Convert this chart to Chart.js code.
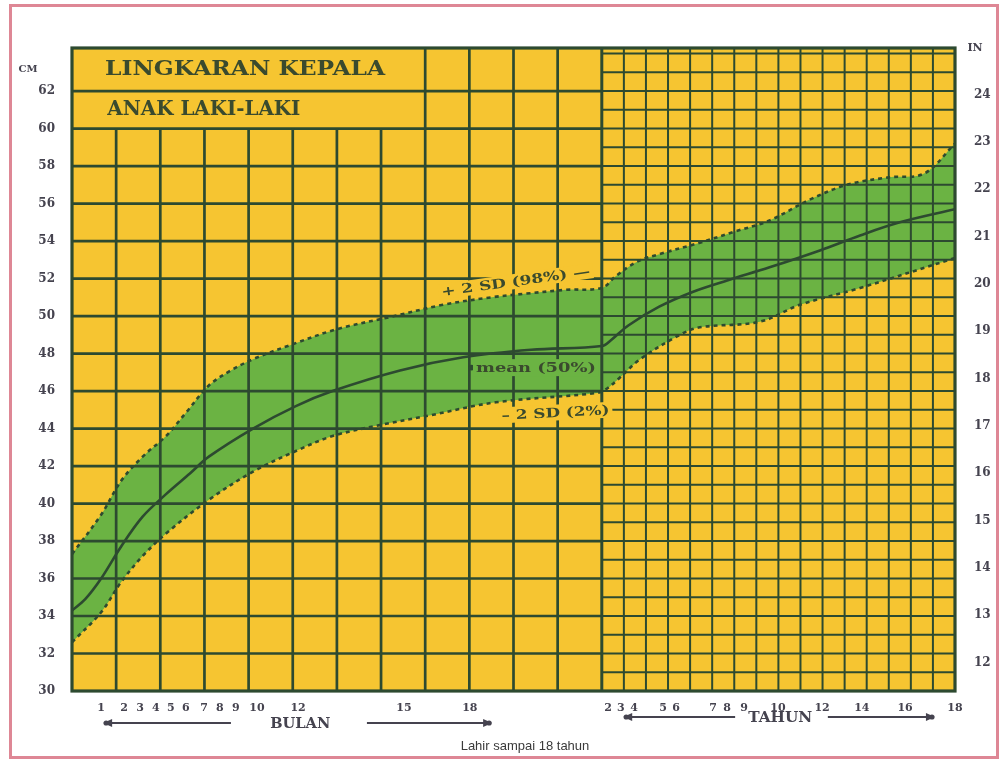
<!DOCTYPE html>
<html><head><meta charset="utf-8">
<script src="https://cdn.jsdelivr.net/npm/chart.js@4.4.1/dist/chart.umd.min.js"></script>
<style>
html,body{margin:0;padding:0;background:#fff;width:999px;height:763px;overflow:hidden}
#wrap{position:relative;width:999px;height:763px}
canvas{position:absolute;left:0;top:0}
#frame{position:absolute;left:9px;top:4px;width:984px;height:749px;border:3px solid #DE8795;pointer-events:none}
</style></head><body>
<div id="wrap"><canvas id="c" width="999" height="763"></canvas><div id="frame"></div></div>
<script>
// ---- data (x = position on the chart's age grid: 0..12 = 0..24 months, 12..20 = 2..18 years) ----
const cmTicks = [30,32,34,36,38,40,42,44,46,48,50,52,54,56,58,60,62];
const inTicks = [12,13,14,15,16,17,18,19,20,21,22,23,24];
const monthTickLabels = ['1','2','3','4','5','6','7','8','9','10','12','15','18'];
const monthTickPos = [0.66,1.18,1.54,1.90,2.24,2.58,2.99,3.35,3.71,4.19,5.12,7.52,9.01];
const yearTickLabels = ['2','3','4','5','6','7','8','9','10','12','14','16','18'];
const yearTickPos = [12.14,12.43,12.73,13.39,13.68,14.52,14.84,15.22,15.99,16.99,17.89,18.87,20.0];

const meanX  = [0,0.3,0.66,1.11,1.6,2.13,2.67,3.1,4.1,5.07,5.9,7.43,8.86,10.4,12.0,12.2,12.6,13.3,14.07,14.84,15.8,16.94,17.85,18.75,20];
const meanCm = [34.3,34.9,36.0,37.7,39.3,40.5,41.6,42.5,44.0,45.2,46.0,47.1,47.8,48.2,48.4,48.7,49.5,50.5,51.3,51.9,52.6,53.5,54.3,55.0,55.7];

const upX  = [0,0.66,1.11,1.6,2.13,2.6,3.1,3.6,4.1,5.0,6.0,7.3,8.4,9.5,10.3,11.2,12.0,12.3,12.8,13.3,14.2,15.0,15.8,16.7,17.55,18.5,19.3,20];
const upCm = [37.3,39.4,41.2,42.5,43.6,44.9,46.3,47.1,47.7,48.5,49.3,50.0,50.6,51.0,51.2,51.4,51.5,52.1,52.9,53.3,53.9,54.5,55.1,56.2,57.0,57.4,57.6,59.2];

const loX  = [0,0.66,1.11,1.6,2.13,3.1,4.1,5.07,5.9,7.0,8.1,9.6,11.9,12.1,12.4,12.87,13.77,14.22,15.58,16.49,17.85,20];
const loCm = [32.6,34.2,35.8,37.2,38.4,40.2,41.7,42.8,43.6,44.2,44.7,45.4,45.9,46.1,46.7,47.7,49.0,49.4,49.7,50.6,51.5,53.1];

// ---- style ----
const YELLOW = '#F6C531', GREEN = '#6BB343', INK = '#2D4A30', TXT = '#45434F', TITLE = '#3A4A2E';
const SERIF = '"DejaVu Serif", "Liberation Serif", serif';

const pts = (xs, ys) => xs.map((x, i) => ({x, y: ys[i]}));
const allTickPos = monthTickPos.concat(yearTickPos);
const allTickLabels = monthTickLabels.concat(yearTickLabels);

function line(ctx, x1, y1, x2, y2) { ctx.beginPath(); ctx.moveTo(x1, y1); ctx.lineTo(x2, y2); ctx.stroke(); }

function label(ctx, s, x, y, opt) {
  ctx.save();
  ctx.translate(x, y);
  if (opt.angle) ctx.rotate(opt.angle * Math.PI / 180);
  ctx.font = opt.font;
  const w = ctx.measureText(s).width;
  const sx = opt.width ? opt.width / w : 1;
  const align = opt.align || 'center';
  const left = align === 'left' ? 0 : -w * sx / 2;
  if (opt.bg) {
    ctx.fillStyle = opt.bg;
    const h = opt.h || 16;
    ctx.fillRect(left - 3, -h / 2, w * sx + 6, h);
  }
  ctx.scale(sx, 1);
  ctx.fillStyle = opt.color;
  ctx.textAlign = 'left';
  ctx.textBaseline = 'middle';
  ctx.fillText(s, left / sx, 1);
  ctx.restore();
}

function arrow(ctx, x1, x2, y, head) {
  ctx.save();
  ctx.strokeStyle = TXT; ctx.fillStyle = TXT; ctx.lineWidth = 2.2;
  line(ctx, x1, y, x2, y);
  const hx = head === 'left' ? x1 : x2, d = head === 'left' ? 1 : -1;
  ctx.beginPath(); ctx.moveTo(hx - d * 2, y); ctx.lineTo(hx + d * 7, y - 4); ctx.lineTo(hx + d * 7, y + 4); ctx.closePath(); ctx.fill();
  ctx.beginPath(); ctx.arc(hx + d * 1, y, 2.6, 0, Math.PI * 2); ctx.fill();
  ctx.restore();
}

const paper = {
  id: 'paper',
  beforeDraw(chart) {
    const {ctx, chartArea: a} = chart;
    ctx.save(); ctx.fillStyle = YELLOW; ctx.fillRect(a.left, a.top, a.right - a.left, a.bottom - a.top); ctx.restore();
  },
  beforeDatasetDraw(chart, args) {
    if (args.index !== 2) return; // band dataset is drawn first; its fill is already painted
    const {ctx, chartArea: a} = chart;
    const X = v => chart.scales.x.getPixelForValue(v), Y = v => chart.scales.y.getPixelForValue(v);
    ctx.save();
    ctx.strokeStyle = INK;
    // year part: 1 cm rows, half-unit columns
    ctx.lineWidth = 2;
    for (let c = 31; c <= 64; c++) line(ctx, X(12), Y(c), a.right, Y(c));
    for (let u = 12.5; u < 20; u += 0.5) line(ctx, X(u), a.top, X(u), a.bottom);
    // month part: 2 cm rows, unit columns
    ctx.lineWidth = 2.7;
    for (let c = 32; c <= 62; c += 2) line(ctx, a.left, Y(c), X(12), Y(c));
    for (let u = 1; u < 12; u++) line(ctx, X(u), u >= 8 ? a.top : Y(60), X(u), a.bottom);
    ctx.lineWidth = 3;
    line(ctx, X(12), a.top, X(12), a.bottom);
    ctx.restore();

    // curve labels
    label(ctx, '+ 2 SD (98%) —', X(10.05), Y(51.85), {font: 'bold 13px ' + SERIF, color: TITLE, angle: -8, bg: YELLOW, h: 15, width: 150});
    ctx.save(); ctx.fillStyle = INK; ctx.beginPath(); ctx.arc(X(9.05), Y(47.25), 2.8, 0, Math.PI * 2); ctx.fill(); ctx.restore();
    label(ctx, 'mean (50%)', X(9.15), Y(47.25), {font: 'bold 13px ' + SERIF, color: TITLE, align: 'left', bg: GREEN, h: 17, width: 120});
    label(ctx, '– 2 SD (2%)', X(10.95), Y(44.85), {font: 'bold 13px ' + SERIF, color: TITLE, angle: -3, bg: YELLOW, h: 16, width: 108});
  },
  afterDraw(chart) {
    const {ctx, chartArea: a} = chart;
    const X = v => chart.scales.x.getPixelForValue(v), Y = v => chart.scales.y.getPixelForValue(v);
    ctx.save();
    ctx.strokeStyle = INK; ctx.lineWidth = 3.2;
    ctx.strokeRect(a.left, a.top, a.right - a.left, a.bottom - a.top);
    ctx.restore();
    // title
    label(ctx, 'LINGKARAN KEPALA', X(0.75), Y(63.2), {font: 'bold 20px ' + SERIF, color: TITLE, align: 'left', width: 280});
    label(ctx, 'ANAK LAKI-LAKI', X(0.8), Y(61.05), {font: 'bold 20px ' + SERIF, color: TITLE, align: 'left', width: 193});
    // unit captions
    label(ctx, 'CM', a.left - 44, a.top + 20, {font: 'bold 10px ' + SERIF, color: TXT});
    label(ctx, 'IN', a.right + 20, a.top - 1, {font: 'bold 11px ' + SERIF, color: TXT});
    // axis captions with arrows
    const yb = a.bottom + 32, yt = a.bottom + 26;
    arrow(ctx, X(0.75), X(3.6), yb, 'left');
    label(ctx, 'BULAN', X(5.17), yb, {font: 'bold 15px ' + SERIF, color: TXT, width: 60});
    arrow(ctx, X(6.68), X(9.47), yb, 'right');
    arrow(ctx, X(12.53), X(15.02), yt, 'left');
    label(ctx, 'TAHUN', X(16.04), yt, {font: 'bold 15px ' + SERIF, color: TXT, width: 64});
    arrow(ctx, X(17.12), X(19.5), yt, 'right');
    label(ctx, 'Lahir sampai 18 tahun', X(10.26), a.bottom + 54, {font: '13px "Liberation Sans", Arial, sans-serif', color: '#3a3a3a'});
  }
};

const curve = {pointRadius: 0, tension: 0.35, borderColor: INK, borderWidth: 2.6};
new Chart(document.getElementById('c'), {
  type: 'line',
  data: {
    datasets: [
      Object.assign({label: 'mean (50%)', data: pts(meanX, meanCm), fill: false}, curve),
      Object.assign({label: '-2 SD (2%)', data: pts(loX, loCm), borderDash: [4, 4], fill: false}, curve),
      Object.assign({label: '+2 SD (98%)', data: pts(upX, upCm), borderDash: [4, 4], fill: 1, backgroundColor: GREEN}, curve)
    ]
  },
  options: {
    responsive: false, animation: false, devicePixelRatio: 1,
    layout: {padding: {top: 48, left: 0, right: 0, bottom: 0}},
    plugins: {legend: {display: false}, tooltip: {enabled: false}, title: {display: false}},
    scales: {
      x: {
        type: 'linear', min: 0, max: 20,
        grid: {display: false}, border: {display: false},
        afterBuildTicks: s => { s.ticks = allTickPos.map(v => ({value: v})); },
        afterFit: s => { s.height = 72; },
        ticks: {autoSkip: false, maxRotation: 0, minRotation: 0, padding: 3, color: TXT,
                font: {family: SERIF, size: 11, weight: 'bold'},
                callback: (v, i) => allTickLabels[i]}
      },
      y: {
        position: 'left', min: 30, max: 64.3,
        grid: {display: false}, border: {display: false},
        afterBuildTicks: s => { s.ticks = cmTicks.map(v => ({value: v})); },
        afterFit: s => { s.width = 72; },
        ticks: {padding: 9, color: TXT, font: {family: SERIF, size: 12, weight: 'bold'}}
      },
      y2: {
        position: 'right', min: 11.4, max: 24.98,
        grid: {display: false}, border: {display: false},
        afterBuildTicks: s => { s.ticks = inTicks.map(v => ({value: v})); },
        afterFit: s => { s.width = 44; },
        ticks: {padding: 11, color: TXT, font: {family: SERIF, size: 12, weight: 'bold'}}
      }
    }
  },
  plugins: [paper]
});
</script>
</body></html>
